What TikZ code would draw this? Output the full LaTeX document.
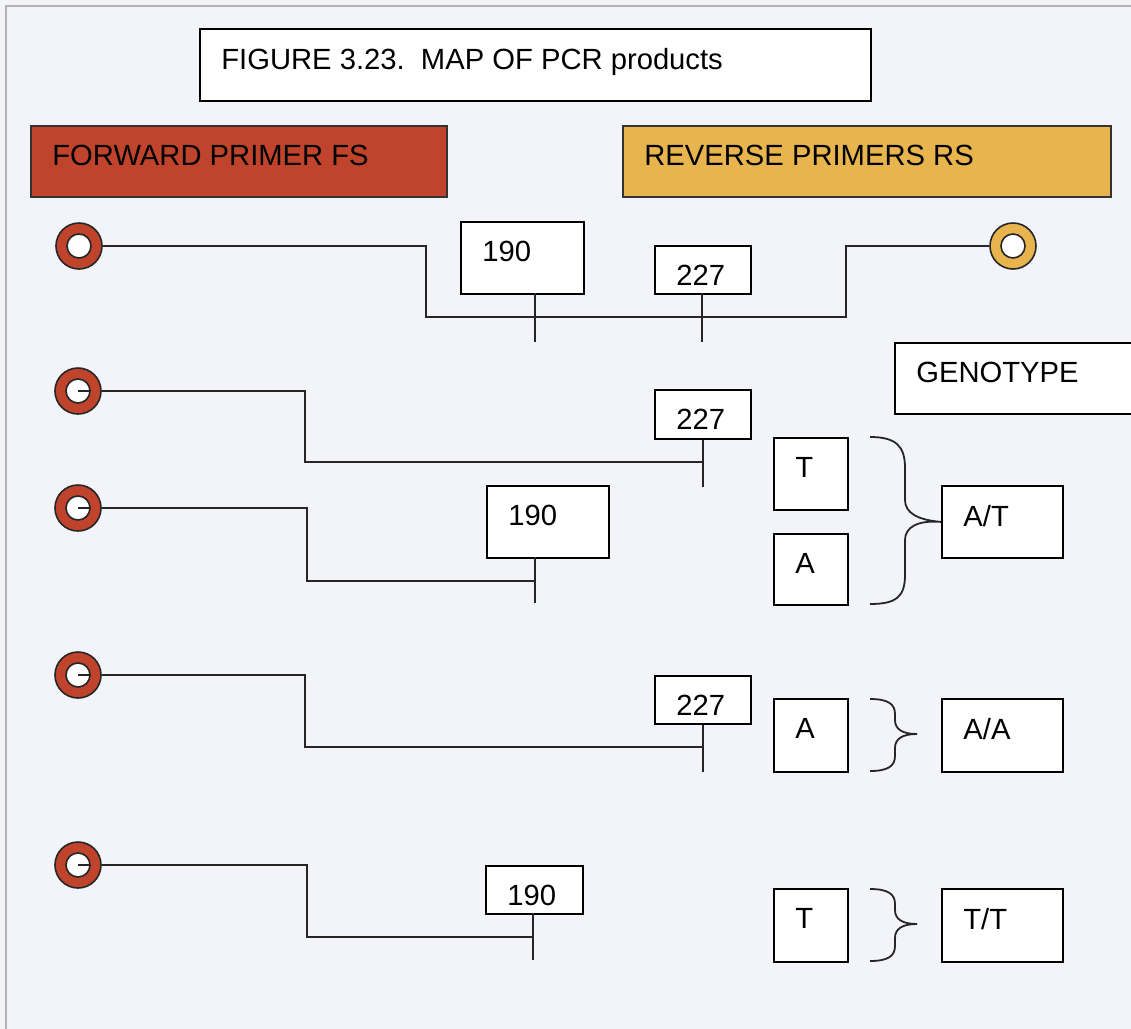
\documentclass[tikz,border=0pt]{standalone}
\usepackage{fontspec}
\setmainfont{Liberation Sans}
\usepackage{tikz}
\usetikzlibrary{positioning}
\definecolor{fsred}{RGB}{192,68,44}
\definecolor{rsgold}{RGB}{232,180,78}
\definecolor{paper}{RGB}{243,244,249}

\begin{document}
\begin{tikzpicture}[
  x=0.5pt, y=-0.5pt,
  font=\fontsize{14.6}{17}\selectfont,
  box/.style={rectangle, draw, line width=0.9pt, fill=white, anchor=north west, inner sep=0pt},
  head/.style={box, draw=black!80},
  tag/.style={anchor=north west, inner sep=0pt, xshift=11pt, yshift=-10pt},
  ring/.style={circle, draw=black!85, line width=0.8pt, minimum size=23pt, inner sep=0pt},
  hole/.style={circle, draw=black!85, line width=0.8pt, fill=white, minimum size=12pt, inner sep=0pt},
  wire/.style={line width=0.9pt, draw=black!85},
  brace/.style={line width=0.9pt, draw=black!85},
]
\useasboundingbox (0,0) rectangle (1131,1029);
\clip (0,0) rectangle (1131,1029);
\fill[paper] (0,0) rectangle (1131,1029);
\draw[gray!60, line width=0.6pt] (6,1029) -- (6,6) -- (1131,6);

\node[box, minimum width=335.5pt, minimum height=36pt,
  label={[tag]north west:FIGURE 3.23.\ \ MAP OF PCR products}] (title) at (199,28) {};
\node[head, fill=fsred, minimum width=208pt, minimum height=35.5pt,
  label={[tag]north west:FORWARD PRIMER FS}] (fwd) at (30,125) {};
\node[head, fill=rsgold, minimum width=244pt, minimum height=35.5pt,
  label={[tag]north west:REVERSE PRIMERS RS}] (rev) at (622,125) {};

\node[ring, fill=fsred] (f1) at (79,246) {};
\node[hole] (f1h) at (f1) {};
\node[ring, fill=rsgold] (r1) at (1013,246) {};
\node[hole] (r1h) at (r1) {};
\node[ring, fill=fsred] (f2) at (78,391) {};
\node[hole] (f2h) at (f2) {};
\node[ring, fill=fsred] (f3) at (78,508) {};
\node[hole] (f3h) at (f3) {};
\node[ring, fill=fsred] (f4) at (78,675) {};
\node[hole] (f4h) at (f4) {};
\node[ring, fill=fsred] (f5) at (78,865) {};
\node[hole] (f5h) at (f5) {};

\node[box, minimum width=61.5pt, minimum height=36pt, label={[tag]north west:190}] (p1a) at (460,221) {};
\node[box, minimum width=48pt, minimum height=24pt, label={[tag]north west:227}] (p1b) at (654,245) {};
\node[box, minimum width=48pt, minimum height=24.5pt, label={[tag]north west:227}] (p2) at (654,389) {};
\node[box, minimum width=61pt, minimum height=36pt, label={[tag]north west:190}] (p3) at (486,485) {};
\node[box, minimum width=48pt, minimum height=24pt, label={[tag]north west:227}] (p4) at (654,675) {};
\node[box, minimum width=48.5pt, minimum height=24pt, label={[tag]north west:190}] (p5) at (485,865) {};

\node[box, minimum width=125pt, minimum height=35.5pt, label={[tag]north west:GENOTYPE}] (geno) at (894,342) {};
\node[box, minimum width=37pt, minimum height=36pt, label={[tag]north west:T}] (a2) at (773,437) {};
\node[box, minimum width=37pt, minimum height=35.5pt, label={[tag]north west:A}] (a3) at (773,533) {};
\node[box, minimum width=37pt, minimum height=36.5pt, label={[tag]north west:A}] (a4) at (773,698) {};
\node[box, minimum width=37pt, minimum height=36.5pt, label={[tag]north west:T}] (a5) at (773,888) {};
\node[box, minimum width=60.5pt, minimum height=36pt, label={[tag]north west:A/T}] (g23) at (941,485) {};
\node[box, minimum width=60.5pt, minimum height=36.5pt, label={[tag]north west:A/A}] (g4) at (941,698) {};
\node[box, minimum width=60.5pt, minimum height=36.5pt, label={[tag]north west:T/T}] (g5) at (941,888) {};

\coordinate (j1) at (426,317);
\coordinate (k1) at (846,317);
\coordinate (t1a) at (535,293);
\coordinate (t1b) at (702,293);
\coordinate (j2) at (305,462);
\coordinate (j3) at (307,581);
\coordinate (j4) at (305,747);
\coordinate (j5) at (307,937);
\coordinate (t3) at (535,557);
\coordinate (t5) at (533,913);

\draw[wire] (f1.east) -| (j1) -- (k1) |- (r1.west);
\draw[wire] (t1a) -- ++(0,49);
\draw[wire] (t1b) -- ++(0,49);
\draw[wire] (f2.east) -| (j2) -| (p2.south) -- ++(0,47);
\draw[wire] (f3.east) -| (j3) -| (t3) -- ++(0,46);
\draw[wire] (f4.east) -| (j4) -| (p4.south) -- ++(0,47);
\draw[wire] (f5.east) -| (j5) -| (t5) -- ++(0,47);
\foreach \r in {2,...,5}
  \draw[wire] (f\r h.center) -- (f\r h.east);

\draw[brace] (870,437) .. controls (896,437) and (905,446) .. (905,468) -- (905,500)
  .. controls (905,513) and (918,520) .. (g23.west)
  .. controls (918,520) and (905,527) .. (905,540) -- (905,575)
  .. controls (905,597) and (896,604) .. (870,604);
\draw[brace] (870,699) .. controls (888,699) and (895,704) .. (895,714) -- (895,720)
  .. controls (895,729) and (902,734) .. (917,734)
  .. controls (902,734) and (895,739) .. (895,748) -- (895,756)
  .. controls (895,766) and (888,771) .. (870,771);
\draw[brace] (870,889) .. controls (888,889) and (895,894) .. (895,904) -- (895,910)
  .. controls (895,919) and (902,924) .. (917,924)
  .. controls (902,924) and (895,929) .. (895,938) -- (895,946)
  .. controls (895,956) and (888,961) .. (870,961);
\end{tikzpicture}
\end{document}
